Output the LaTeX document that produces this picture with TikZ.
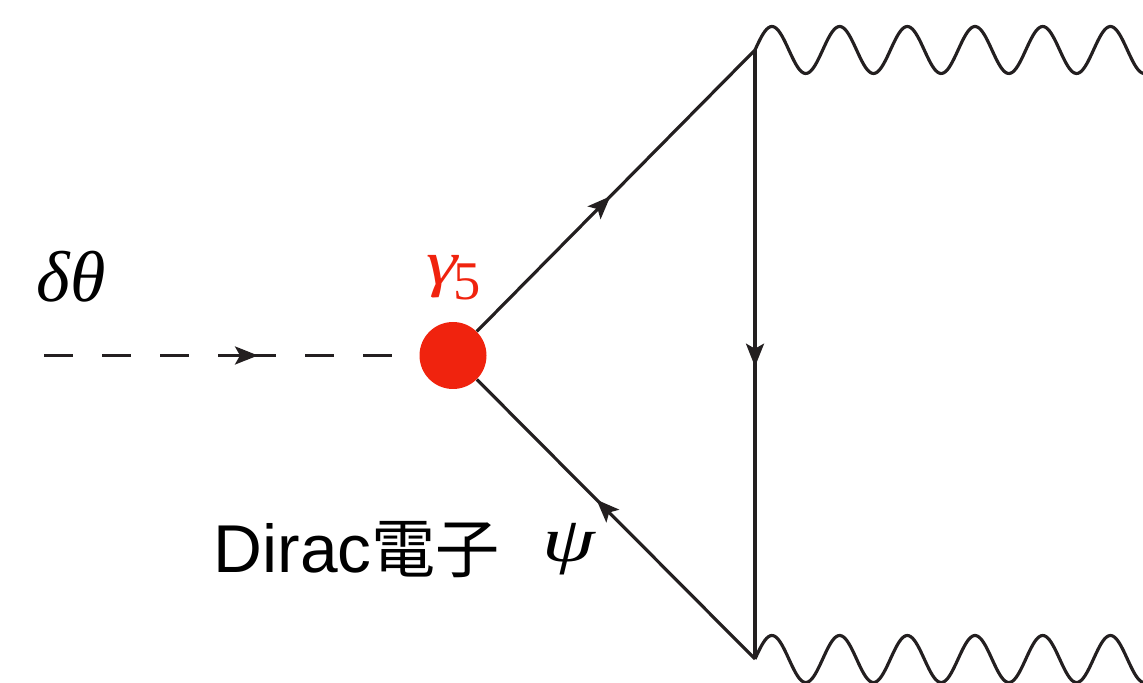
\documentclass[tikz,border=0pt]{standalone}
\usepackage{fontspec}
\setmainfont{Liberation Serif}
\newfontfamily\labelfont{Liberation Sans}
\newfontfamily\cjkfont{Noto Sans CJK JP}
\usepackage{tikz}
\usetikzlibrary{arrows.meta}
\usetikzlibrary{decorations.markings}

\tikzset{
  fermion/.style={line width=1.8pt, draw=ink, postaction={decorate},
    decoration={markings, mark=at position #1 with {\arrow{Stealth[length=.46cm,width=.36cm,inset=.1cm]}}}},
  scalar/.style={line width=1.8pt, draw=ink, dash pattern=on .58cm off .58cm},
  photon/.style={line width=1.8pt, draw=ink, smooth},
  vertex/.style={circle, fill=vertexred, minimum size=1.34cm, inner sep=0pt}
}

\begin{document}
\begin{tikzpicture}[line join=round]

\definecolor{ink}{HTML}{231f20}
\definecolor{vertexred}{HTML}{f0230e}

\useasboundingbox (0,0) rectangle (22.86,13.66);
\clip (0,0) rectangle (22.86,13.66);

\node[vertex] (vtx) at (9.06,6.55) {};
\coordinate (top) at (15.1,12.66);
\coordinate (bot) at (15.1,0.48);
\coordinate (dstart) at (0.88,6.55);
\coordinate (dmid) at (4.94,6.55);
\coordinate (dend) at (7.84,6.55);

\draw[fermion=0.48] (vtx) -- (top);
\draw[fermion=0.52] (top) -- (bot);
\draw[fermion=0.57] (bot) -- (vtx);

\draw[scalar] (dstart) -- (dmid);
\draw[scalar, fermion=0.076] (dmid) -- (dend);

\draw[photon, shift={(top)}] plot[domain=0:8, samples=240] (\x,{.47*sin(\x/1.354*360)});
\draw[photon, shift={(bot)}] plot[domain=0:8, samples=240] (\x,{.47*sin(\x/1.354*360)});

\node[] (dtheta) at (1.42,8.12) {\fontsize{41}{41}\selectfont\itshape δθ};
\node[text=vertexred, anchor=base] (gamma) at (9.07,7.96) {\scalebox{1.1}[.88]{\fontsize{41}{41}\selectfont\itshape γ}\kern-2.5pt\raisebox{-8pt}{\fontsize{31}{31}\selectfont 5}};
\node[] (dirac) at (7.14,2.66) {\labelfont\fontsize{38.5}{38.5}\selectfont Dirac\cjkfont\fontsize{36.5}{36.5}\selectfont 電子};
\node[] (psi) at (11.37,2.68) {\scalebox{1.15}[.86]{\fontsize{42}{42}\selectfont\itshape ψ}};

\end{tikzpicture}
\end{document}
